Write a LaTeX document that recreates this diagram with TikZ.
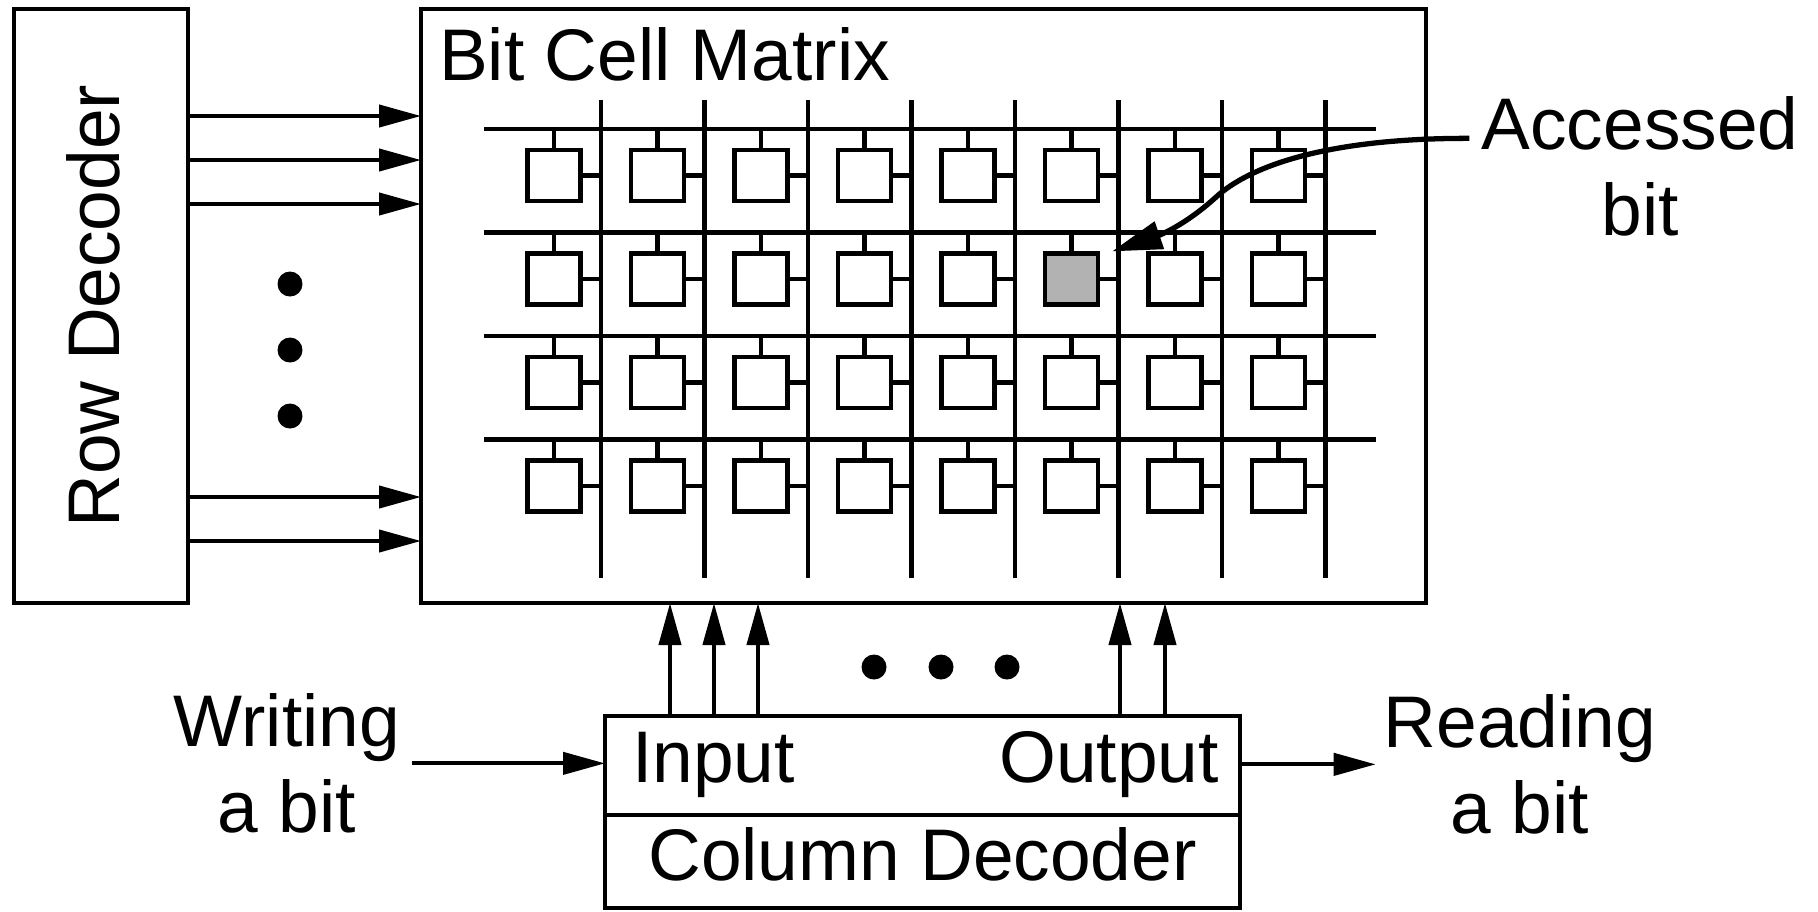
\documentclass[tikz,border=0pt]{standalone}
\usepackage{fontspec}
\setmainfont{Liberation Sans}
\usetikzlibrary{arrows.meta,positioning}
\definecolor{hitgray}{gray}{0.7}

\begin{document}
\begin{tikzpicture}[line width=1.2pt,
    every node/.style={font=\fontsize{20.8}{24.2}\selectfont,inner sep=0pt},
    block/.style={draw,line width=1.4pt,outer sep=0pt},
    bitcell/.style={draw,line width=1.2pt,minimum width=.53cm,minimum height=.51cm},
    hit 1-5/.style={fill=hitgray},
    wire/.style={-{Triangle[length=4.2mm,width=2.2mm]}},
    pointer/.style={line width=1.5pt,-{Triangle[length=5mm,width=2.8mm]}},
    caption/.style={align=center,anchor=base}]
    \useasboundingbox(0,0)rectangle(18.18,-9.11);
    \node[block,minimum width=1.74cm,minimum height=5.94cm](rowdec)at(1.01,-3.06){};
    \node[rotate=90](rowtext)at([xshift=-.08cm]rowdec.center){Row Decoder};
    \node[block,minimum width=10.05cm,minimum height=5.94cm](bcm)at(9.235,-3.06){};
    \node[anchor=base west](title)at([shift={(.16,-.71)}]bcm.north west){Bit Cell Matrix};
    \foreach \c in {0,...,7}
        \draw(6.01+1.035*\c,-1.00)--(6.01+1.035*\c,-5.78);
    \foreach \r in {0,...,3}{
        \pgfmathsetmacro\wy{-1.29-1.035*\r}
        \draw(4.84,\wy)--(13.76,\wy);
        \foreach \c in {0,...,7}{
            \pgfmathsetmacro\bx{6.01+1.035*\c}
            \node[bitcell,hit \r-\c/.try](cell-\r-\c)at(\bx-.47,\wy-.465){};
            \draw(cell-\r-\c.north)--(cell-\r-\c.north|-0,\wy);
            \draw(cell-\r-\c.east)--(\bx,0|-cell-\r-\c.east);
        }
    }
    \foreach \y in {1.16,1.60,2.04,4.97,5.41}
        \draw[wire](rowdec.east|-0,-\y)--(bcm.west|-0,-\y);
    \foreach \y in {2.84,3.50,4.16}
        \fill(2.90,-\y)circle(.125);
    \node[block,minimum width=6.35cm,minimum height=.99cm](io)at(9.225,-7.655){};
    \node[block,minimum width=6.35cm,minimum height=.93cm,anchor=north](coldec)at(io.south){};
    \node[anchor=base](coltext)at([yshift=-.185cm]coldec.center){Column Decoder};
    \node[anchor=base west](inp)at(6.30,-7.82){Input};
    \node[anchor=base east](outp)at(12.21,-7.82){Output};
    \foreach \x in {6.70,7.14,7.58,11.20,11.65}
        \draw[wire](io.north-|\x,0)--(bcm.south-|\x,0);
    \foreach \x in {8.74,9.41,10.07}
        \fill(\x,-6.67)circle(.125);
    \node[caption](wr)at(2.87,-8.32){Writing\\a bit};
    \node[caption](rd)at(15.20,-8.33){Reading\\a bit};
    \node[caption](acc)at(16.40,-2.35){Accessed\\bit};
    \draw[wire]([xshift=.1cm]wr.east)--(wr.east-|io.west);
    \draw[wire](io.east|-rd.west)--([xshift=-.06cm]rd.west);
    \draw[pointer]([shift={(-.1,.28)}]acc.west)..controls(13.30,-1.38)and(12.50,-1.65)..(12.15,-1.98)
        ..controls(11.85,-2.25)and(11.60,-2.35)..([xshift=.12cm]cell-1-5.north east);
\end{tikzpicture}
\end{document}
